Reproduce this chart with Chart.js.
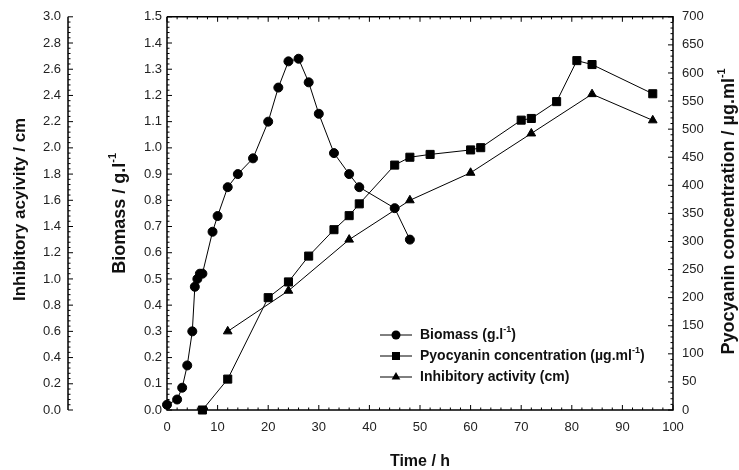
<!DOCTYPE html>
<html lang="en">
<head>
<meta charset="UTF-8">
<title>Biomass, pyocyanin and inhibitory activity</title>
<script src="https://cdn.jsdelivr.net/npm/chart.js"></script>
<style>
  body { margin: 0; background: #fff; }
  canvas { display: block; }
</style>
</head>
<body>
<canvas id="chart" width="739" height="470"></canvas>
<script>
// values
const biomassTime = [0, 2, 3, 4, 5, 5.5, 6, 6.5, 7, 9, 10, 12, 14, 17, 20, 22, 24, 26, 28, 30, 33, 36, 38, 45, 48];
const biomassValues = [0.02, 0.04, 0.085, 0.17, 0.30, 0.47, 0.50, 0.52, 0.52, 0.68, 0.74, 0.85, 0.90, 0.96, 1.10, 1.23, 1.33, 1.34, 1.25, 1.13, 0.98, 0.90, 0.85, 0.77, 0.65];

const pyoTime = [7, 12, 20, 24, 28, 33, 36, 38, 45, 48, 52, 60, 62, 70, 72, 77, 81, 84, 96];
const pyoValues = [0, 55, 200, 228, 274, 321, 346, 367, 436, 450, 455, 463, 467, 516, 519, 549, 622, 615, 563];

const inhibTime = [12, 24, 36, 48, 60, 72, 84, 96];
const inhibValues = [0.60, 0.91, 1.30, 1.60, 1.81, 2.11, 2.41, 2.21];

// legend / title texts, [text, isSuperscript]
const legendLabels = [
  [['Biomass (g.l', false], ['-1', true], [')', false]],
  [['Pyocyanin concentration (\u00b5g.ml', false], ['-1', true], [')', false]],
  [['Inhibitory activity (cm)', false]]
];
const xTitle = [['Time / h', false]];
const biomassTitle = [['Biomass / g.l', false], ['-1', true]];
const inhibTitle = [['Inhibitory acyivity / cm', false]];
const pyoTitle = [['Pyocyanin concentration / \u00b5g.ml', false], ['-1', true]];

const FONT = 'Arial, "Liberation Sans", sans-serif';

function toPoints(xs, ys) {
  return xs.map((x, i) => ({ x: x, y: ys[i] }));
}

// draw text with superscript parts, centred on (x, y)
function drawRich(ctx, parts, x, y, size, align) {
  const big = 'bold ' + size + 'px ' + FONT;
  const small = 'bold ' + Math.round(size * 0.62) + 'px ' + FONT;
  let w = 0;
  parts.forEach(p => { ctx.font = p[1] ? small : big; w += ctx.measureText(p[0]).width; });
  let cx = align === 'left' ? x : x - w / 2;
  ctx.textBaseline = 'middle';
  ctx.textAlign = 'left';
  parts.forEach(p => {
    ctx.font = p[1] ? small : big;
    ctx.fillText(p[0], cx, p[1] ? y - size * 0.38 : y);
    cx += ctx.measureText(p[0]).width;
  });
}

function marker(ctx, style, x, y) {
  ctx.beginPath();
  if (style === 'circle') {
    ctx.arc(x, y, 4.5, 0, Math.PI * 2);
  } else if (style === 'rect') {
    ctx.rect(x - 4, y - 4, 8, 8);
  } else {
    const r = 5;
    for (let k = 0; k < 3; k++) {
      const a = k * 2 * Math.PI / 3;
      ctx.lineTo(x + Math.sin(a) * r, y - Math.cos(a) * r);
    }
    ctx.closePath();
  }
  ctx.fill();
}

// ticks pointing into the plot, with minor ticks
function ticksV(ctx, scale, step, minor, xPos, dir) {
  const n = Math.round((scale.max - scale.min) / minor);
  const every = Math.round(step / minor);
  for (let i = 0; i <= n; i++) {
    const py = scale.getPixelForValue(scale.min + i * minor);
    const len = i % every === 0 ? 5 : 2.5;
    ctx.beginPath();
    ctx.moveTo(xPos, py);
    ctx.lineTo(xPos + dir * len, py);
    ctx.stroke();
  }
}
function ticksH(ctx, scale, step, minor, yPos, dir) {
  const n = Math.round((scale.max - scale.min) / minor);
  const every = Math.round(step / minor);
  for (let i = 0; i <= n; i++) {
    const px = scale.getPixelForValue(scale.min + i * minor);
    const len = i % every === 0 ? 5 : 2.5;
    ctx.beginPath();
    ctx.moveTo(px, yPos);
    ctx.lineTo(px, yPos + dir * len);
    ctx.stroke();
  }
}

const axesPlugin = {
  id: 'axesPlugin',
  afterDraw(chart) {
    const ctx = chart.ctx;
    const a = chart.chartArea;
    const s = chart.scales;
    ctx.save();
    ctx.strokeStyle = '#000';
    ctx.fillStyle = '#000';
    ctx.lineWidth = 1.5;

    // frame lines
    const farX = s.y2.right;
    ctx.beginPath();
    ctx.moveTo(farX, a.top); ctx.lineTo(farX, a.bottom);
    ctx.moveTo(a.left, a.top); ctx.lineTo(a.left, a.bottom); ctx.lineTo(a.right, a.bottom);
    ctx.lineTo(a.right, a.top); ctx.lineTo(a.left, a.top);
    ctx.stroke();

    ctx.lineWidth = 1;
    ticksH(ctx, s.x, 10, 2, a.bottom, -1);
    ticksH(ctx, s.x, 10, 2, a.top, 1);
    ticksV(ctx, s.y, 0.1, 0.02, a.left, 1);
    ticksV(ctx, s.y2, 0.2, 0.04, farX, 1);
    ticksV(ctx, s.y3, 50, 10, a.right, -1);

    // axis titles
    ctx.fillStyle = '#111';
    const midY = (a.top + a.bottom) / 2;
    drawRich(ctx, xTitle, (a.left + a.right) / 2, 462, 16, 'center');
    [[inhibTitle, 20, -4, 17], [biomassTitle, 120, 0, 18], [pyoTitle, 729, -2, 18]].forEach(t => {
      ctx.save();
      ctx.translate(t[1], midY + t[2]);
      ctx.rotate(-Math.PI / 2);
      drawRich(ctx, t[0], 0, 0, t[3], 'center');
      ctx.restore();
    });

    // legend inside the plot
    const lx = a.left + 213;
    const ly = [335, 356, 377];
    chart.data.datasets.forEach((d, i) => {
      ctx.strokeStyle = '#000';
      ctx.fillStyle = '#000';
      ctx.beginPath();
      ctx.moveTo(lx, ly[i]); ctx.lineTo(lx + 32, ly[i]);
      ctx.stroke();
      marker(ctx, d.pointStyle, lx + 16, ly[i]);
      ctx.fillStyle = '#111';
      drawRich(ctx, legendLabels[i], lx + 40, ly[i], 14, 'left');
    });
    ctx.restore();
  }
};

const tickFont = { family: FONT, size: 13 };
const noGrid = { display: false, drawTicks: false };

new Chart(document.getElementById('chart'), {
  type: 'line',
  data: {
    datasets: [
      {
        label: 'Biomass',
        data: toPoints(biomassTime, biomassValues),
        yAxisID: 'y',
        pointStyle: 'circle',
        pointRadius: 4.5
      },
      {
        label: 'Pyocyanin concentration',
        data: toPoints(pyoTime, pyoValues),
        yAxisID: 'y3',
        pointStyle: 'rect',
        pointRadius: 5.7
      },
      {
        label: 'Inhibitory activity',
        data: toPoints(inhibTime, inhibValues),
        yAxisID: 'y2',
        pointStyle: 'triangle',
        pointRadius: 5
      }
    ].map(d => Object.assign(d, {
      borderColor: '#000',
      backgroundColor: '#000',
      borderWidth: 1,
      pointBorderWidth: 1,
      tension: 0,
      clip: false
    }))
  },
  options: {
    responsive: false,
    animation: false,
    devicePixelRatio: 1,
    layout: { padding: { top: 16, left: 0, right: 0, bottom: 0 } },
    plugins: { legend: { display: false }, tooltip: { enabled: false } },
    scales: {
      x: {
        type: 'linear', min: 0, max: 100,
        grid: noGrid, border: { display: false },
        ticks: { stepSize: 10, autoSkip: false, padding: 10, font: tickFont, color: '#222', maxRotation: 0 },
        afterFit: sc => { sc.height = 60; }
      },
      y: {
        position: 'left', weight: 0, min: 0, max: 1.5,
        grid: noGrid, border: { display: false },
        ticks: { stepSize: 0.1, autoSkip: false, padding: 5, font: tickFont, color: '#222', callback: v => v.toFixed(1) },
        afterFit: sc => { sc.width = 99; }
      },
      y2: {
        position: 'left', weight: 1, min: 0, max: 3,
        grid: noGrid, border: { display: false },
        ticks: { stepSize: 0.2, autoSkip: false, padding: 7, font: tickFont, color: '#222', callback: v => v.toFixed(1) },
        afterFit: sc => { sc.width = 68; }
      },
      y3: {
        position: 'right', min: 0, max: 700,
        grid: noGrid, border: { display: false },
        ticks: { stepSize: 50, autoSkip: false, padding: 9, font: tickFont, color: '#222' },
        afterFit: sc => { sc.width = 66; }
      }
    }
  },
  plugins: [axesPlugin]
});
</script>
</body>
</html>
